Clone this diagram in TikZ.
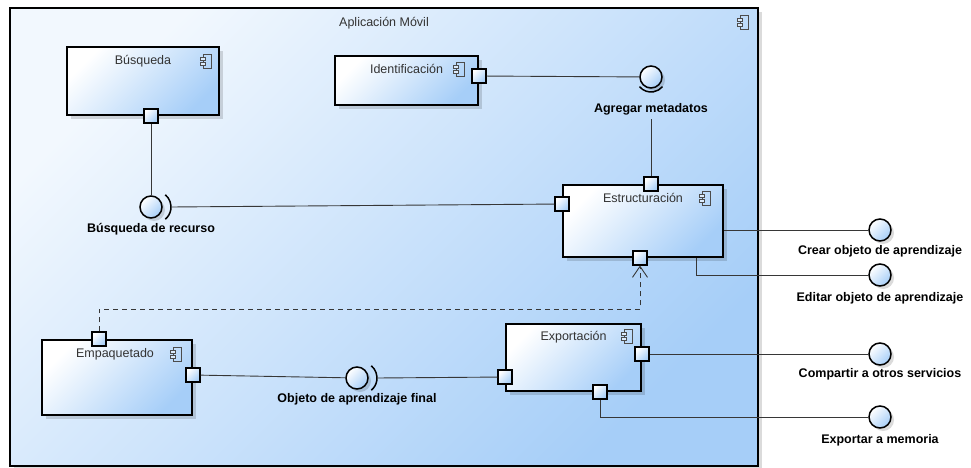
\documentclass[tikz,border=0pt]{standalone}
\usepackage{fontspec}
\setmainfont{Liberation Sans}
\usetikzlibrary{positioning,arrows.meta,shadows}

\definecolor{umlblue}{RGB}{166,206,248}
\definecolor{umlpale}{RGB}{242,248,254}
\definecolor{umlline}{RGB}{55,55,55}

\tikzset{compicon/.pic={
  \draw[black!70, line width=0.8pt] (-3,-7) rectangle (5,7);
  \draw[black!70, line width=0.8pt, fill=umlblue!40] (-6,1) rectangle (-1,4) (-6,-4) rectangle (-1,-1);
}}

\begin{document}
\begin{tikzpicture}[x=1pt, y=1pt, >={Straight Barb[length=11pt,width=15pt]},
    comp/.style={draw, line width=1.6pt, shading=axis, top color=#1, bottom color=umlblue,
      shading angle=45, drop shadow={shadow xshift=4pt, shadow yshift=-4pt, fill=black, opacity=0.14}},
    comp/.default=white,
    port/.style={draw, line width=1.5pt, minimum size=14pt, inner sep=0pt, shading=axis,
      top color=white, bottom color=umlblue, shading angle=45},
    ball/.style={circle, draw, line width=1.5pt, minimum size=22pt, inner sep=0pt, shading=axis,
      top color=white, bottom color=umlblue, shading angle=45,
      drop shadow={shadow xshift=3pt, shadow yshift=-3pt, fill=black, opacity=0.14}},
    title/.style={text=black!80, font=\fontsize{12.5}{14}\selectfont},
    iface/.style={font=\bfseries\fontsize{12.5}{14}\selectfont},
    wire/.style={draw=umlline, line width=0.9pt},
    sock/.style={draw, line width=1.5pt},
    dep/.style={wire, dashed, dash pattern=on 5pt off 4pt, ->}]

  \useasboundingbox (0,0) rectangle (971,-468);

  % components
  \node[comp=umlpale, minimum width=748pt, minimum height=458pt] (app) at (384,-237) {};
  \node[title, below=7pt of app.north] {Aplicación Móvil};
  \pic at ([xshift=-15pt,yshift=-15pt]app.north east) {compicon};

  \node[comp, minimum width=152pt, minimum height=68pt] (busq) at (143,-81) {};
  \node[comp, minimum width=143pt, minimum height=49pt] (iden) at (406.5,-80.5) {};
  \node[comp, minimum width=160pt, minimum height=72pt] (estr) at (643,-221) {};
  \node[comp, minimum width=150pt, minimum height=75pt] (empa) at (117,-377.5) {};
  \node[comp, minimum width=135pt, minimum height=67pt] (expo) at (573.5,-357.5) {};

  \node[title, below=6pt of busq.north] {Búsqueda};
  \node[title, below=6pt of iden.north] {Identificación};
  \node[title, below=6pt of estr.north] {Estructuración};
  \node[title, below=6pt of empa.north, xshift=-2pt] {Empaquetado};
  \node[title, below=5pt of expo.north] {Exportación};

  \pic at ([xshift=-13pt,yshift=-15pt]busq.north east) {compicon};
  \pic at ([xshift=-19pt,yshift=-14pt]iden.north east) {compicon};
  \pic at ([xshift=-18pt,yshift=-14pt]estr.north east) {compicon};
  \pic at ([xshift=-16pt,yshift=-15pt]empa.north east) {compicon};
  \pic at ([xshift=-14pt,yshift=-13pt]expo.north east) {compicon};

  % ports
  \node[port] (busq-s) at ([xshift=8pt]busq.south) {};
  \node[port] (iden-e) at ([yshift=4.5pt]iden.east) {};
  \node[port] (estr-n) at ([xshift=8pt]estr.north) {};
  \node[port] (estr-w) at ([yshift=17pt]estr.west) {};
  \node[port] (estr-s) at ([xshift=-3pt]estr.south) {};
  \node[port] (empa-n) at ([xshift=-18pt]empa.north) {};
  \node[port] (empa-e) at ([yshift=2.5pt]empa.east) {};
  \node[port] (expo-w) at ([yshift=-19.5pt]expo.west) {};
  \node[port] (expo-e) at ([yshift=3.5pt]expo.east) {};
  \node[port] (expo-s) at ([xshift=26.5pt]expo.south) {};

  % interfaces
  \node[ball] (busrec) at (151,-207) {};
  \node[ball] (agreg) at (651,-77) {};
  \node[ball] (objfin) at (357,-378) {};
  \node[ball] (crear) at (880,-230) {};
  \node[ball] (editar) at (880,-275) {};
  \node[ball] (compar) at (880,-354) {};
  \node[ball] (export) at (880,-417) {};

  \node[iface, below=1pt of busrec] {Búsqueda de recurso};
  \node[iface, below=11pt of agreg] (agreg-l) {Agregar metadatos};
  \node[iface, below=0pt of objfin] {Objeto de aprendizaje final};
  \node[iface, below=0pt of crear] {Crear objeto de aprendizaje};
  \node[iface, below=2pt of editar] {Editar objeto de aprendizaje};
  \node[iface, below=-1pt of compar] {Compartir a otros servicios};
  \node[iface, below=2pt of export] {Exportar a memoria};

  \coordinate (busrec-sock) at ([xshift=20pt]busrec.center);
  \coordinate (objfin-sock) at ([xshift=20pt]objfin.center);

  % connectors
  \draw[wire] (busq-s) -- (busrec);
  \draw[sock] ([xshift=4pt]busrec.center) ++(50:16pt) arc[start angle=50, end angle=-50, radius=16pt];
  \draw[wire] (busrec-sock) -- (estr-w);
  \draw[wire] (iden-e) -- (agreg);
  \draw[sock] (agreg.center) ++(220:15pt) arc[start angle=220, end angle=320, radius=15pt];
  \draw[wire] (estr-n) -- (agreg-l);
  \draw[wire] (empa-e) -- (objfin);
  \draw[sock] ([xshift=4pt]objfin.center) ++(50:16pt) arc[start angle=50, end angle=-50, radius=16pt];
  \draw[wire] (objfin-sock) -- (expo-w);
  \draw[wire] (estr.east |- crear) -- (crear);
  \draw[wire] ([xshift=53pt]estr.south) |- (editar);
  \draw[wire] (expo-e) -- (compar);
  \draw[wire] (expo-s) |- (export);
  \draw[dep] (empa-n.north) -- ++(0,22pt) -| (estr-s.south);
\end{tikzpicture}
\end{document}
